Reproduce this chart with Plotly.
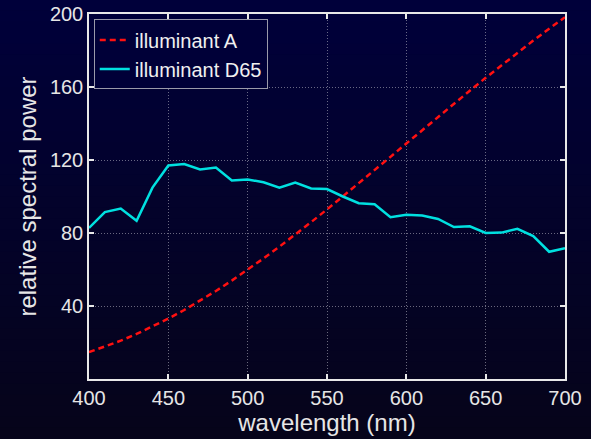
import plotly.graph_objects as go

wavelength = list(range(400, 701, 10))
illum_A = [14.71, 17.68, 20.99, 24.67, 28.70, 33.09, 37.81, 42.87, 48.24, 53.91,
           59.86, 66.06, 72.50, 79.13, 85.95, 92.91, 100.00, 107.18, 114.44, 121.73,
           129.04, 136.35, 143.62, 150.84, 157.98, 165.03, 171.96, 178.77, 185.43, 191.93,
           198.26]
illum_D65 = [82.75, 91.49, 93.43, 86.68, 104.86, 117.01, 117.81, 114.86, 115.92, 108.81,
             109.35, 107.80, 104.79, 107.69, 104.41, 104.05, 100.00, 96.33, 95.79, 88.69,
             90.01, 89.60, 87.70, 83.29, 83.70, 80.03, 80.21, 82.28, 78.28, 69.72,
             71.61]
x_ticks = [400, 450, 500, 550, 600, 650, 700]
y_ticks = [40, 80, 120, 160, 200]

W, H = 591, 439
ml, mr, mt, mb = 89, 26, 14, 60
ph = H - mt - mb

FONT = "Liberation Sans, Arial, Helvetica"

fig = go.Figure()
fig.add_trace(go.Scatter(x=wavelength, y=illum_A, mode="lines", name="illuminant A",
                         line=dict(color="#ff1010", width=2.5, dash="6px,4px")))
fig.add_trace(go.Scatter(x=wavelength, y=illum_D65, mode="lines", name="illuminant D65",
                         line=dict(color="#00e0e0", width=2.5)))

# vertical gradient background bands
shapes = []
n = 40
top = (0, 0, 58)
bot = (6, 4, 26)
y0p = -mb / ph
y1p = 1 + mt / ph
for i in range(n):
    t = i / (n - 1)
    c = tuple(round(top[k] + (bot[k] - top[k]) * t) for k in range(3))
    ya = y1p - (y1p - y0p) * i / n
    yb = y1p - (y1p - y0p) * (i + 1) / n
    shapes.append(dict(type="rect", xref="paper", yref="paper", x0=-ml / (W - ml - mr) - 0.01,
                       x1=1 + mr / (W - ml - mr) + 0.01, y0=yb - 0.002, y1=ya + 0.002,
                       fillcolor="rgb(%d,%d,%d)" % c, line=dict(width=0), layer="below"))

axis_common = dict(
    showline=True, linecolor="#e8e8e8", linewidth=1.5, mirror="ticks",
    ticks="inside", ticklen=5, tickcolor="#e8e8e8", tickwidth=1.5,
    showgrid=True, gridcolor="rgba(190,190,200,0.55)", griddash="1px,2px", gridwidth=1,
    zeroline=False, automargin=False,
    tickfont=dict(family=FONT, size=20, color="#e6e6e6"),
)

fig.update_layout(
    width=W, height=H,
    margin=dict(l=ml, r=mr, t=mt, b=mb),
    paper_bgcolor="rgb(3,2,42)",
    plot_bgcolor="rgba(0,0,0,0)",
    shapes=shapes,
    showlegend=True,
    legend=dict(x=0.01, y=0.985, xanchor="left", yanchor="top",
                bgcolor="rgb(0,0,56)", bordercolor="#9a9aaa", borderwidth=1,
                font=dict(family=FONT, size=20, color="#f0f0f0"),
                tracegroupgap=0, itemwidth=30),
    xaxis=dict(range=[400, 700], tickvals=x_ticks,
               title=dict(text="wavelength (nm)", standoff=4,
                          font=dict(family=FONT, size=24, color="#e6e6e6")),
               **axis_common),
    yaxis=dict(range=[0, 200], tickvals=y_ticks,
               title=dict(text="relative spectral power", standoff=6,
                          font=dict(family=FONT, size=24, color="#e6e6e6")),
               **axis_common),
)

fig.write_html("out.html")
